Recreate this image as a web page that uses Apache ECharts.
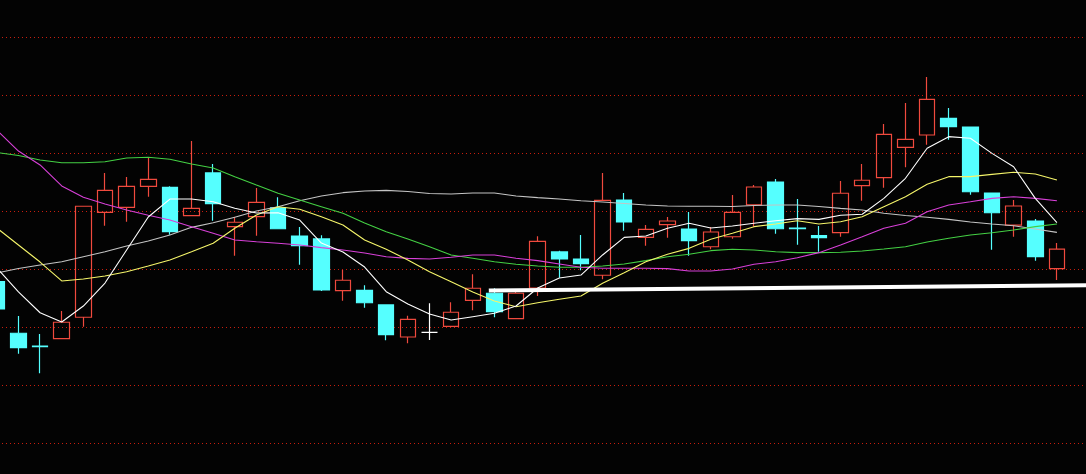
<!DOCTYPE html>
<html>
<head>
<meta charset="utf-8">
<script src="https://cdn.jsdelivr.net/npm/echarts@6/dist/echarts.min.js"></script>
<style>
html,body{margin:0;padding:0;background:#030303;overflow:hidden;width:1086px;height:474px;position:relative;}
#chart{position:absolute;left:-14px;top:-21px;width:1125px;height:522px;}
</style>
</head>
<body>
<div id="chart"></div>
<script>
var categories = ['1','2','3','4','5','6','7','8','9','10','11','12','13','14','15','16','17','18','19','20','21','22','23','24','25','26','27','28','29','30','31','32','33','34','35','36','37','38','39','40','41','42','43','44','45','46','47','48','49','50','51','52'];

var opens = [11.391,10.946,10.836,10.899,11.084,11.989,12.032,12.213,12.204,11.960,12.328,11.865,11.951,12.028,11.784,11.759,11.313,11.316,11.190,10.914,10.954,11.006,11.230,11.291,11.073,11.336,11.647,11.586,11.446,12.095,11.773,11.882,11.845,11.692,11.778,12.052,12.250,11.853,11.787,11.813,12.218,12.287,12.549,12.655,12.799,12.724,12.155,11.879,11.914,11.503];
var closes = [11.155,10.822,10.831,11.041,12.041,12.178,12.213,12.273,11.822,12.023,12.063,11.903,12.075,11.847,11.701,11.319,11.403,11.209,10.934,11.066,10.954,11.127,11.334,11.132,11.291,11.739,11.586,11.546,12.092,11.905,11.842,11.914,11.744,11.819,11.989,12.207,11.847,11.848,11.770,12.153,12.265,12.661,12.618,12.963,12.727,12.166,11.985,12.043,11.606,11.672];
var lows = [11.112,10.770,10.601,10.899,11.003,11.873,11.908,12.123,11.796,11.960,11.916,11.615,11.787,11.842,11.537,11.310,11.227,11.166,10.885,10.859,10.888,11.006,11.144,11.084,11.073,11.267,11.425,11.489,11.411,11.830,11.701,11.770,11.615,11.670,11.761,11.865,11.804,11.709,11.649,11.778,12.089,12.201,12.377,12.572,12.615,12.141,11.666,11.778,11.572,11.405];
var highs = [11.440,11.095,10.940,11.138,12.041,12.328,12.293,12.460,12.213,12.603,12.405,11.951,12.198,12.118,11.862,11.791,11.491,11.359,11.190,11.097,11.204,11.213,11.454,11.334,11.310,11.782,11.658,11.793,12.328,12.155,11.879,11.948,11.991,11.862,12.138,12.224,12.276,12.103,11.871,12.259,12.405,12.750,12.931,13.155,12.888,12.724,12.155,12.095,11.931,11.724];
var whiteDoji = [20];

var ma5 = [11.509,11.302,11.123,11.043,11.181,11.379,11.664,11.948,12.103,12.103,12.080,12.023,11.983,11.985,11.922,11.724,11.647,11.517,11.304,11.198,11.112,11.060,11.089,11.118,11.181,11.336,11.422,11.448,11.621,11.773,11.784,11.851,11.894,11.853,11.871,11.894,11.916,11.934,11.928,11.963,11.972,12.109,12.282,12.541,12.641,12.627,12.497,12.382,12.109,11.899];
var ma10 = [11.853,11.707,11.560,11.397,11.414,11.440,11.477,11.526,11.578,11.649,11.722,11.851,11.966,12.037,12.015,11.951,11.879,11.750,11.670,11.578,11.477,11.391,11.302,11.224,11.175,11.209,11.239,11.267,11.377,11.468,11.563,11.627,11.678,11.756,11.808,11.865,11.888,11.916,11.888,11.908,11.951,12.037,12.123,12.230,12.296,12.296,12.316,12.334,12.319,12.267];
var ma20 = [12.698,12.517,12.397,12.216,12.118,12.060,12.009,11.963,11.922,11.865,11.808,11.750,11.735,11.722,11.707,11.684,11.664,11.638,11.606,11.592,11.586,11.601,11.621,11.621,11.592,11.572,11.543,11.515,11.506,11.506,11.506,11.503,11.483,11.483,11.500,11.541,11.563,11.597,11.641,11.707,11.778,11.851,11.894,11.994,12.052,12.080,12.109,12.123,12.109,12.089];
var ma30 = [12.504,12.478,12.440,12.416,12.416,12.425,12.457,12.463,12.446,12.405,12.371,12.296,12.224,12.153,12.095,12.037,11.980,11.897,11.822,11.759,11.692,11.621,11.592,11.563,11.541,11.526,11.515,11.515,11.526,11.543,11.572,11.606,11.627,11.658,11.670,11.664,11.649,11.641,11.641,11.644,11.655,11.672,11.692,11.733,11.765,11.793,11.813,11.836,11.865,11.888];
var ma60 = [11.466,11.504,11.534,11.563,11.606,11.649,11.698,11.741,11.793,11.859,11.899,11.946,12.000,12.037,12.089,12.129,12.158,12.172,12.178,12.168,12.151,12.147,12.155,12.155,12.129,12.115,12.103,12.089,12.078,12.065,12.052,12.043,12.041,12.041,12.039,12.047,12.052,12.052,12.039,12.023,12.009,11.980,11.961,11.946,11.928,11.905,11.888,11.873,11.845,11.816];
var trendX = [22.74, 50.4];
var trendY = [11.315, 11.360];

var RED = '#f04a3e', CYAN = '#55ffff';
var candleData = opens.map(function (o, i) {
  var item = { value: [o, closes[i], lows[i], highs[i]] };
  if (whiteDoji.indexOf(i) >= 0) {
    item.itemStyle = { color: '#ffffff', color0: '#ffffff', borderColor: '#ffffff', borderColor0: '#ffffff' };
  }
  return item;
});
var trendData = trendX.map(function (x, i) { return [x, trendY[i]]; });

function maSeries(name, data, color) {
  return {
    name: name, type: 'line', data: data, xAxisIndex: 0, yAxisIndex: 0,
    showSymbol: false, symbol: 'none', smooth: false,
    lineStyle: { color: color, width: 1.1 }, z: 3, silent: true
  };
}

var chart = echarts.init(document.getElementById('chart'), null, { renderer: 'canvas' });
chart.setOption({
  animation: false,
  backgroundColor: '#030303',
  grid: { left: 0, right: 0, top: 0, bottom: 0, containLabel: false },
  xAxis: [
    { type: 'category', data: categories, boundaryGap: true, show: false },
    { type: 'value', min: -0.5, max: 51.5, show: false }
  ],
  yAxis: {
    type: 'value', min: 9.5, max: 14, interval: 0.5, scale: false,
    axisLine: { show: false }, axisTick: { show: false }, axisLabel: { show: false },
    splitLine: { show: true, lineStyle: { color: '#c81e0e', opacity: 1, width: 1, type: [1, 3] } }
  },
  series: [
    {
      name: 'K', type: 'candlestick', data: candleData, barWidth: 16, z: 2, silent: true,
      itemStyle: { color: 'rgba(0,0,0,0)', color0: CYAN, borderColor: RED, borderColor0: CYAN, borderWidth: 1.2 }
    },
    maSeries('MA60', ma60, '#c4c4c4'),
    maSeries('MA30', ma30, '#44d044'),
    maSeries('MA20', ma20, '#d840d8'),
    maSeries('MA10', ma10, '#f5f56a'),
    maSeries('MA5', ma5, '#ffffff'),
    {
      name: 'trend', type: 'line', data: trendData, xAxisIndex: 1, yAxisIndex: 0,
      showSymbol: false, symbol: 'none', lineStyle: { color: '#ffffff', width: 4 }, z: 5, silent: true
    }
  ]
});
</script>
</body>
</html>
